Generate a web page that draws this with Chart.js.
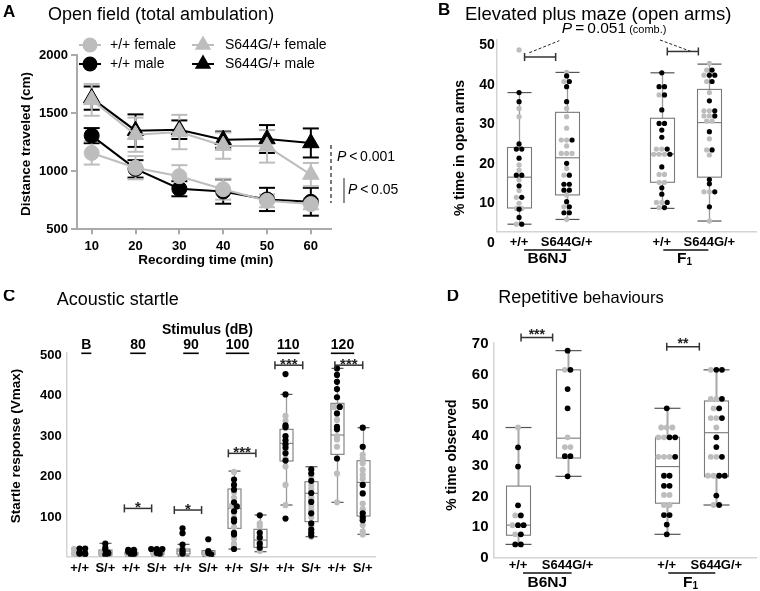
<!DOCTYPE html>
<html><head><meta charset="utf-8">
<script src="https://cdn.jsdelivr.net/npm/chart.js@4.4.1/dist/chart.umd.min.js"></script>
<style>
html,body{margin:0;padding:0;background:#fff;}
body{width:760px;height:591px;position:relative;overflow:hidden}
canvas{position:absolute;display:block}
</style></head><body>
<canvas id="cA" width="410" height="290" style="left:0;top:0"></canvas>
<canvas id="cB" width="380" height="290" style="left:380px;top:0"></canvas>
<canvas id="cC" width="380" height="301" style="left:0;top:290px"></canvas>
<canvas id="cD" width="380" height="301" style="left:380px;top:290px"></canvas>
<script>
// ---------------- DATA ----------------
// Panel A: open field (mean, SEM)
const timeMin = [10, 20, 30, 40, 50, 60];
const wtFemale = [1157, 1030, 957, 845, 745, 717];
const wtFemaleSem = [100, 100, 95, 90, 55, 45];
const wtMale = [1306, 1020, 849, 825, 757, 737];
const wtMaleSem = [65, 75, 65, 105, 100, 120];
const mutFemale = [1614, 1314, 1337, 1220, 1214, 971];
const mutFemaleSem = [137, 147, 148, 113, 140, 100];
const mutMale = [1629, 1349, 1357, 1271, 1277, 1243];
const mutMaleSem = [100, 140, 80, 70, 120, 125];
const distanceTicks = [500, 1000, 1500, 2000];

// Panel B: elevated plus maze (% time in open arms)
const epmPositions = [0, 1, 3, 4];
const epmLabels = ['+/+', 'S644G/+', '+/+', 'S644G/+'];
const epmTicks = [10, 20, 30, 40, 50];
// box stats: [min, q1, median, q3, max]
const epmB6WtBox = [4.7, 8.8, 16.6, 24.1, 38.0];
const epmB6MutBox = [5.9, 12.1, 21.5, 33.0, 43.1];
const epmF1WtBox = [8.7, 15.3, 22.5, 31.5, 43.0];
const epmF1MutBox = [5.5, 16.6, 30.4, 38.8, 45.2];
const epmB6WtFemale = [48.8, 34.0, 31.9, 19.7, 18.4, 15.9, 13.2, 11.5, 10.0, 8.7, 8.7, 4.7];
const epmB6WtMale = [38.0, 35.7, 25.0, 23.7, 23.7, 21.4, 17.1, 17.1, 14.4, 11.5, 8.5, 6.4, 4.7];
const epmB6MutFemale = [43.1, 40.8, 34.0, 31.9, 29.0, 26.0, 26.0, 24.5, 22.6, 22.6, 22.6, 18.8, 17.1, 12.1, 9.1, 5.9];
const epmB6MutMale = [42.2, 40.8, 39.5, 35.7, 26.0, 20.1, 17.1, 14.8, 14.8, 13.3, 13.3, 10.4, 9.1, 7.6, 7.6];
const epmF1WtFemale = [37.4, 23.7, 23.7, 22.4, 22.4, 22.4, 17.3, 17.3, 15.3, 15.3, 10.2, 10.2, 8.9];
const epmF1WtMale = [43.0, 39.5, 39.5, 37.4, 33.6, 30.2, 30.2, 28.5, 26.7, 23.7, 22.4, 19.2, 13.9, 12.3, 10.2, 8.9];
const epmF1MutFemale = [45.4, 43.7, 42.4, 40.8, 38.0, 33.4, 33.4, 32.1, 32.1, 30.8, 30.8, 26.3, 23.5, 22.2, 12.9, 12.9, 5.5];
const epmF1MutMale = [43.7, 42.4, 42.4, 40.8, 35.9, 33.4, 32.1, 28.1, 23.5, 16.0, 14.9, 12.9, 9.1];

// Panel C: acoustic startle (Vmax)
const stimulusLevels = ['B', '80', '90', '100', '110', '120'];
const startleGenotypes = ['+/+', 'S/+'];
const startleTicks = [100, 200, 300, 400, 500];
const startleBoxes = [
  [5, 9.6, 12.8, 17, 25], [5, 7.1, 12.8, 19.5, 36],
  [5, 8, 11, 14, 20], [5, 9, 12, 15, 22],
  [5, 9.6, 17, 21.9, 33.4], [4, 7.9, 12, 17.7, 18],
  [21.9, 72.9, 122, 169.8, 214], [15.3, 26, 44, 70.5, 105.7],
  [130.4, 238.8, 282.4, 316.9, 403], [52.3, 89.3, 159.2, 187.8, 224.7],
  [137, 255.2, 302.9, 381, 467.2], [58.1, 103.3, 186.2, 239.6, 320.9]
];
const startleFemale = [
  [22, 12, 10, 8, 6, 5], [18, 14, 10, 6, 5],
  [12, 9, 6], [14, 10, 7, 5],
  [25, 18, 12, 8, 5], [14, 10, 8, 6],
  [212, 170, 162, 148, 128, 110, 98, 76, 48, 35, 28], [85, 78, 55, 45, 40, 30, 20, 17],
  [350, 338, 320, 283, 265, 245, 225, 180, 130], [200, 180, 170, 150, 145, 128, 118, 100, 78, 52],
  [372, 340, 300, 292, 274, 208, 137], [254, 245, 233, 217, 205, 195, 134, 120, 81, 65, 58]
];
const startleMale = [
  [23, 23, 14, 12, 11, 10, 9], [35, 25, 20, 13, 11, 8],
  [20, 20, 15, 14, 11, 10, 8], [22, 22, 22, 20, 18, 15, 12, 10],
  [73, 61, 33, 20, 15, 10], [46, 17, 12, 9],
  [193, 180, 168, 137, 127, 115, 95, 90, 62, 58, 22], [105, 62, 50, 35, 25],
  [453, 403, 327, 322, 300, 290, 280, 272, 258, 240, 97], [218, 208, 190, 160, 138, 110, 85, 70, 62, 55],
  [467, 451, 434, 416, 396, 372, 356, 323, 317, 245], [321, 274, 180, 159, 110, 100, 93]
];

// Panel D: repetitive behaviours (% time observed)
const repPositions = [0, 1, 3, 4];
const repLabels = ['+/+', 'S644G/+', '+/+', 'S644G/+'];
const repTicks = [0, 10, 20, 30, 40, 50, 60, 70];
const repB6WtBox = [4.3, 7.3, 10.6, 23.4, 42.6];
const repB6MutBox = [26.6, 32.6, 39.1, 61.5, 67.8];
const repF1WtBox = [7.6, 17.8, 29.8, 39.4, 48.9];
const repF1MutBox = [17.2, 26.5, 40.9, 51.3, 61.5];
const repB6WtFemale = [42.6, 13.8, 10.6, 7.6];
const repB6WtMale = [36.1, 29.8, 17.1, 13.8, 10.6, 10.6, 7.6, 4.3, 4.3];
const repB6MutFemale = [61.5, 39.4, 36.2, 36.2];
const repB6MutMale = [67.8, 61.5, 55.2, 48.9, 33.2, 33.2, 26.6];
const repF1WtFemale = [42.6, 42.6, 42.6, 39.4, 39.4, 33.0, 33.0, 33.0, 20.5, 20.5, 17.2, 17.2];
const repF1WtMale = [48.9, 39.4, 39.4, 33.0, 26.8, 26.8, 23.5, 23.5, 13.9, 13.9, 10.8, 7.6];
const repF1MutFemale = [61.5, 52.0, 52.0, 48.9, 45.7, 45.7, 42.6, 33.0, 33.0, 26.8, 26.8, 17.2];
const repF1MutMale = [61.5, 61.5, 52.0, 48.9, 45.7, 39.4, 36.2, 33.0, 26.8, 26.8, 20.3, 17.2];

// ---------------- HELPERS ----------------
const FONT = "'Liberation Sans', Arial, Helvetica, sans-serif";
const GREY = '#bdbdbd';
const BLACK = '#000000';
Chart.defaults.font.family = FONT;

function fnt(size, bold, italic) { return (italic ? 'italic ' : '') + (bold ? 'bold ' : '') + size + 'px ' + FONT; }
function drawItems(ctx, items) {
  items.forEach(it => {
    ctx.save();
    ctx.fillStyle = it.color || '#000';
    ctx.textBaseline = it.baseline || 'middle';
    const segs = it.segs || [{ t: it.t }];
    let total = 0;
    const ws = segs.map(s => {
      ctx.font = fnt(s.size || it.size, s.bold ?? it.bold, s.italic ?? it.italic);
      const w = ctx.measureText(s.t).width; total += w; return w;
    });
    ctx.translate(it.x, it.y);
    if (it.rot) ctx.rotate(it.rot * Math.PI / 180);
    let x0 = it.align === 'center' ? -total / 2 : (it.align === 'right' ? -total : 0);
    segs.forEach((s, i) => {
      ctx.font = fnt(s.size || it.size, s.bold ?? it.bold, s.italic ?? it.italic);
      ctx.textAlign = 'left';
      ctx.fillText(s.t, x0, s.dy || 0);
      if (it.underline) ctx.fillRect(x0, 7.5, ws[i], 1.6);
      x0 += ws[i];
    });
    ctx.restore();
  });
}
function line(ctx, x1, y1, x2, y2, color, width, dash) {
  ctx.save(); ctx.strokeStyle = color; ctx.lineWidth = width; ctx.setLineDash(dash || []);
  ctx.beginPath(); ctx.moveTo(x1, y1); ctx.lineTo(x2, y2); ctx.stroke(); ctx.restore();
}
function bracket(ctx, x1, x2, y, stars, size, gap) {
  line(ctx, x1, y, x2, y, '#333', 1.5);
  line(ctx, x1, y - 4, x1, y + 4, '#333', 1.5);
  line(ctx, x2, y - 4, x2, y + 4, '#333', 1.5);
  if (stars) drawItems(ctx, [{ t: stars, x: (x1 + x2) / 2, y: y + gap, size: size, bold: true, align: 'center', baseline: 'alphabetic', color: '#222' }]);
}
function pts(pos, arr) { return arr.map(v => ({ x: pos, y: v })); }

function swarmPlugin(spacing, tol) {
  return {
    id: 'swarm',
    afterDatasetsUpdate(chart) {
      const groups = new Map();
      chart.data.datasets.forEach((ds, di) => {
        const meta = chart.getDatasetMeta(di);
        meta.data.forEach((el, i) => {
          const key = ds.data[i].x;
          if (!groups.has(key)) groups.set(key, []);
          groups.get(key).push({ el, y: el.y, x: el.x, di });
        });
      });
      groups.forEach(items => {
        items.sort((a, b) => a.y - b.y);
        let i = 0;
        while (i < items.length) {
          let j = i + 1;
          while (j < items.length && items[j].y - items[i].y <= tol) j++;
          const row = items.slice(i, j).sort((a, b) => b.di - a.di);
          const n = row.length;
          row.forEach((it, k) => { it.el.x = it.x + (k - (n - 1) / 2) * spacing; });
          i = j;
        }
      });
    }
  };
}
function boxPlugin(boxes, o) {
  return {
    id: 'boxes',
    beforeDatasetsDraw(chart) {
      const ctx = chart.ctx, xs = chart.scales.x, ys = chart.scales.y;
      boxes.forEach(b => {
        const x = Math.round(xs.getPixelForValue(b.pos)) + 0.5;
        const [mn, q1, md, q3, mx] = b.stats.map(v => ys.getPixelForValue(v));
        line(ctx, x, mx, x, q3, o.whisker, o.whiskerWidth);
        line(ctx, x, q1, x, mn, o.whisker, o.whiskerWidth);
        line(ctx, x - o.capHalf, mx, x + o.capHalf, mx, o.cap, 1.2);
        line(ctx, x - o.capHalf, mn, x + o.capHalf, mn, o.cap, 1.2);
        ctx.save(); ctx.strokeStyle = o.box; ctx.lineWidth = 1.1;
        ctx.strokeRect(x - o.boxHalf, q3, 2 * o.boxHalf, q1 - q3); ctx.restore();
        line(ctx, x - o.boxHalf, md, x + o.boxHalf, md, o.box, 1.1);
      });
    }
  };
}
function axisX(min, max, positions, labels, padding, height, size) {
  return {
    type: 'linear', min, max,
    afterBuildTicks: s => { s.ticks = positions.map(v => ({ value: v })); },
    afterFit: s => { s.height = height; },
    ticks: { callback: (v, i) => labels[i], font: { size, weight: 'bold' }, color: '#000', padding, maxRotation: 0, autoSkip: false },
    grid: { display: false, drawTicks: false },
    border: { color: '#d4d4d4', width: 1.5 }
  };
}
function axisY(min, max, ticks, padding, width, size) {
  return {
    type: 'linear', min, max,
    afterBuildTicks: s => { s.ticks = ticks.map(v => ({ value: v })); },
    afterFit: s => { s.width = width; },
    ticks: { callback: v => String(v), font: { size, weight: 'bold' }, color: '#000', padding },
    grid: { display: false, drawTicks: false },
    border: { color: '#d4d4d4', width: 1.5 }
  };
}
const baseOpts = { responsive: false, animation: false, events: [], plugins: { legend: { display: false }, tooltip: { enabled: false } } };

// ---------------- PANEL A ----------------
function lineDs(label, vals, sem, color, style, r) {
  return {
    label, data: vals.map((v, i) => ({ x: timeMin[i], y: v })), sem,
    borderColor: color, backgroundColor: color, borderWidth: 2,
    pointStyle: style, pointRadius: r, pointBorderWidth: 1, pointBorderColor: color, pointBackgroundColor: color, tension: 0
  };
}
const errorBars = {
  id: 'errbars',
  beforeDatasetsDraw(chart) {
    const ctx = chart.ctx, xs = chart.scales.x, ys = chart.scales.y;
    chart.data.datasets.slice().reverse().forEach(ds => {
      ds.data.forEach((p, i) => {
        const x = xs.getPixelForValue(p.x), e = ds.sem[i];
        const y1 = ys.getPixelForValue(p.y + e), y2 = ys.getPixelForValue(p.y - e);
        line(ctx, x, y1, x, y2, ds.borderColor, 2);
        line(ctx, x - 8, y1, x + 8, y1, ds.borderColor, 2);
        line(ctx, x - 8, y2, x + 8, y2, ds.borderColor, 2);
      });
    });
  }
};
function marker(ctx, style, x, y, r, color) {
  ctx.save(); ctx.fillStyle = color; ctx.beginPath();
  if (style === 'circle') ctx.arc(x, y, r, 0, Math.PI * 2);
  else { for (let k = 0; k < 3; k++) { const a = k * 2 * Math.PI / 3; ctx.lineTo(x + Math.sin(a) * r, y - Math.cos(a) * r); } ctx.closePath(); }
  ctx.fill(); ctx.restore();
}
const legendSpots = [[90, 45], [203, 45], [90, 64], [203, 64]];
const decorA = {
  id: 'decorA',
  afterDraw(chart) {
    const ctx = chart.ctx;
    chart.data.datasets.forEach((ds, i) => {
      const [x, y] = legendSpots[i];
      line(ctx, x - 11, y, x + 11, y, ds.borderColor, 2);
      marker(ctx, ds.pointStyle, x, y, ds.pointRadius, ds.borderColor);
      drawItems(ctx, [{ t: ds.label, x: x + (i % 2 ? 22 : 20), y, size: 14 }]);
    });
    line(ctx, 331, 145, 331, 203, '#222', 1.2, [4, 3]);
    line(ctx, 344, 178, 344, 203, '#555', 1.3);
    drawItems(ctx, [
      { t: 'A', x: 3, y: 12, size: 17, bold: true },
      { t: 'Open field (total ambulation)', x: 48, y: 15, size: 18 },
      { t: 'Distance traveled (cm)', x: 26.5, y: 144, size: 13.5, bold: true, rot: -90, align: 'center' },
      { t: 'Recording time (min)', x: 205.8, y: 260, size: 13.5, bold: true, align: 'center' },
      { segs: [{ t: 'P', italic: true }, { t: '\u2009<\u20090.001' }], x: 337, y: 157, size: 14 },
      { segs: [{ t: 'P', italic: true }, { t: '\u2009<\u20090.05' }], x: 348, y: 190, size: 14 }
    ]);
  }
};
new Chart(document.getElementById('cA'), {
  type: 'line',
  data: { datasets: [
    lineDs('+/+ female', wtFemale, wtFemaleSem, GREY, 'circle', 7.5),
    lineDs('S644G/+ female', mutFemale, mutFemaleSem, GREY, 'triangle', 9.5),
    lineDs('+/+ male', wtMale, wtMaleSem, BLACK, 'circle', 7.5),
    lineDs('S644G/+ male', mutMale, mutMaleSem, BLACK, 'triangle', 9.5)
  ] },
  options: Object.assign({}, baseOpts, {
    layout: { padding: { left: 0, right: 79, top: 55, bottom: 0 } },
    scales: {
      x: {
        type: 'linear', min: 6.65, max: 64.6,
        afterBuildTicks: s => { s.ticks = timeMin.map(v => ({ value: v })); },
        afterFit: s => { s.height = 60.7; },
        ticks: { callback: v => String(v), font: { size: 13, weight: 'bold' }, color: '#000', padding: 4.5, maxRotation: 0 },
        grid: { drawOnChartArea: false, drawTicks: true, tickLength: 5, color: '#aaaaaa', lineWidth: 2 },
        border: { color: '#aaaaaa', width: 2 }
      },
      y: {
        type: 'linear', min: 500, max: 2000,
        afterBuildTicks: s => { s.ticks = distanceTicks.map(v => ({ value: v })); },
        afterFit: s => { s.width = 77; },
        ticks: { callback: v => String(v), font: { size: 13, weight: 'bold' }, color: '#000', padding: 3 },
        grid: { drawOnChartArea: false, drawTicks: true, tickLength: 6, color: '#aaaaaa', lineWidth: 2 },
        border: { color: '#aaaaaa', width: 2 }
      }
    }
  }),
  plugins: [errorBars, decorA]
});

// ---------------- PANEL B ----------------
const epmBoxes = [
  { pos: 0, stats: epmB6WtBox }, { pos: 1, stats: epmB6MutBox },
  { pos: 3, stats: epmF1WtBox }, { pos: 4, stats: epmF1MutBox }
];
function groupLabels(ctx, xs, yLine, yText) {
  const a0 = xs.getPixelForValue(0), a1 = xs.getPixelForValue(1), b0 = xs.getPixelForValue(3), b1 = xs.getPixelForValue(4);
  line(ctx, a0 + 5, yLine, a1 + 4, yLine, '#111', 1.3);
  line(ctx, b0 + 1.5, yLine, b1 - 1, yLine, '#111', 1.3);
  drawItems(ctx, [
    { t: 'B6NJ', x: (a0 + a1 + 9) / 2, y: yText, size: 15.5, bold: true, align: 'center' },
    { segs: [{ t: 'F' }, { t: '1', size: 10, dy: 4 }], x: (b0 + b1) / 2 - 1, y: yText, size: 15.5, bold: true, align: 'center' }
  ]);
}
const decorB = {
  id: 'decorB',
  afterDraw(chart) {
    const ctx = chart.ctx, xs = chart.scales.x, ys = chart.scales.y;
    drawItems(ctx, [
      { t: 'B', x: 58, y: 10, size: 17, bold: true },
      { t: 'Elevated plus maze (open arms)', x: 85, y: 15, size: 18.5 },
      { t: '% time in open arms', x: 80, y: 148, size: 14, bold: true, rot: -90, align: 'center' },
      { t: '0', x: chart.chartArea.left - 2, y: ys.getPixelForValue(0), size: 14, bold: true, align: 'right' },
      { segs: [{ t: 'P', italic: true }, { t: '\u2009=\u20090.051' }, { t: ' (comb.)', size: 11 }], x: 181.7, y: 33.2, size: 15.5, baseline: 'alphabetic' }
    ]);
    line(ctx, 149.3, 52.7, 179.3, 40.7, '#222', 1, [3, 2]);
    line(ctx, 280, 40, 311.7, 51.7, '#222', 1, [3, 2]);
    bracket(ctx, xs.getPixelForValue(0) + 5.5, xs.getPixelForValue(1) - 11, ys.getPixelForValue(47), '', 14, 0);
    bracket(ctx, xs.getPixelForValue(3) + 5.5, xs.getPixelForValue(4) - 11, ys.getPixelForValue(48.4), '', 14, 0);
    groupLabels(ctx, xs, 250, 258.3);
  }
};
function scatterDs(label, data, color, r) {
  return { label, data, backgroundColor: color, borderColor: color, borderWidth: 0, pointRadius: r, showLine: false };
}
new Chart(document.getElementById('cB'), {
  type: 'scatter',
  data: { datasets: [
    scatterDs('male', [].concat(pts(0, epmB6WtMale), pts(1, epmB6MutMale), pts(3, epmF1WtMale), pts(4, epmF1MutMale)), BLACK, 2.6),
    scatterDs('female', [].concat(pts(0, epmB6WtFemale), pts(1, epmB6MutFemale), pts(3, epmF1WtFemale), pts(4, epmF1MutFemale)), GREY, 2.6)
  ] },
  options: Object.assign({}, baseOpts, {
    layout: { padding: { left: 0, right: 0, top: 40, bottom: 0 } },
    scales: {
      x: axisX(-0.47, 4.98, epmPositions, epmLabels, 2.5, 290 - 231.7, 13),
      y: axisY(2.8, 51.3, epmTicks, 2, 116.7, 14)
    }
  }),
  plugins: [swarmPlugin(5.4, 0.5), boxPlugin(epmBoxes, { whisker: '#9a9a9a', whiskerWidth: 1.3, cap: '#555', box: '#7a7a7a', boxHalf: 12, capHalf: 12 }), decorB]
});

// ---------------- PANEL C ----------------
const startlePositions = startleBoxes.map((b, i) => i);
const startleLabels = startlePositions.map(i => startleGenotypes[i % 2]);
const headerX = [86.3, 138, 191, 237.5, 288.3, 342.5];
const startleBrackets = [[1.74, 2.80, 122, '*'], [3.68, 4.74, 118, '*'], [5.78, 6.85, 257.7, '***'], [7.59, 8.67, 475, '***'], [9.92, 11.0, 475, '***']];
const decorC = {
  id: 'decorC',
  afterDraw(chart) {
    const ctx = chart.ctx, xs = chart.scales.x, ys = chart.scales.y;
    drawItems(ctx, [
      { t: 'C', x: 3, y: 6.5, size: 17, bold: true },
      { t: 'Acoustic startle', x: 56.7, y: 10, size: 18 },
      { t: 'Startle response (Vmax)', x: 16.7, y: 156, size: 13.5, bold: true, rot: -90, align: 'center' },
      { t: 'Stimulus (dB)', x: 207.5, y: 40, size: 14, bold: true, align: 'center' }
    ]);
    drawItems(ctx, stimulusLevels.map((s, i) => ({ t: s, x: headerX[i], y: 55, size: 14, bold: true, align: 'center', underline: true })));
    startleBrackets.forEach(b => bracket(ctx, xs.getPixelForValue(b[0]), xs.getPixelForValue(b[1]), ys.getPixelForValue(b[2]), b[3], 15, 3.5));
  }
};
new Chart(document.getElementById('cC'), {
  type: 'scatter',
  data: { datasets: [
    scatterDs('male', [].concat(...startleMale.map((a, i) => pts(i, a))), BLACK, 3.1),
    scatterDs('female', [].concat(...startleFemale.map((a, i) => pts(i, a))), GREY, 3.1)
  ] },
  options: Object.assign({}, baseOpts, {
    layout: { padding: { left: 0, right: 4.4, top: 63, bottom: 0 } },
    scales: {
      x: axisX(-0.5, 11.5, startlePositions, startleLabels, 3.8, 301 - 266.7, 13),
      y: axisY(3, 505, startleTicks, 5, 66.7, 13)
    }
  }),
  plugins: [swarmPlugin(5.6, 0.5), boxPlugin(startleBoxes.map((s, i) => ({ pos: i, stats: s })), { whisker: '#9a9a9a', whiskerWidth: 1.3, cap: '#555', box: '#7a7a7a', boxHalf: 6.5, capHalf: 6 }), decorC]
});

// ---------------- PANEL D ----------------
const repBoxes = [
  { pos: 0, stats: repB6WtBox }, { pos: 1, stats: repB6MutBox },
  { pos: 3, stats: repF1WtBox }, { pos: 4, stats: repF1MutBox }
];
const decorD = {
  id: 'decorD',
  afterDraw(chart) {
    const ctx = chart.ctx, xs = chart.scales.x, ys = chart.scales.y;
    drawItems(ctx, [
      { t: 'D', x: 66.7, y: 6, size: 17, bold: true },
      { segs: [{ t: 'Repetitive', size: 18 }, { t: ' behaviours', size: 16.5 }], x: 118.3, y: 8.3 },
      { t: '% time observed', x: 71.7, y: 165, size: 14, bold: true, rot: -90, align: 'center' }
    ]);
    bracket(ctx, xs.getPixelForValue(0) + 3, xs.getPixelForValue(1) - 15, ys.getPixelForValue(72.1), '***', 14, 1);
    bracket(ctx, xs.getPixelForValue(3), xs.getPixelForValue(4) - 17, ys.getPixelForValue(69.1), '**', 14, 1);
    groupLabels(ctx, xs, 283, 292.7);
  }
};
new Chart(document.getElementById('cD'), {
  type: 'scatter',
  data: { datasets: [
    scatterDs('male', [].concat(pts(0, repB6WtMale), pts(1, repB6MutMale), pts(3, repF1WtMale), pts(4, repF1MutMale)), BLACK, 2.9),
    scatterDs('female', [].concat(pts(0, repB6WtFemale), pts(1, repB6MutFemale), pts(3, repF1WtFemale), pts(4, repF1MutFemale)), GREY, 2.9)
  ] },
  options: Object.assign({}, baseOpts, {
    layout: { padding: { left: 0, right: 4, top: 53, bottom: 0 } },
    scales: {
      x: axisX(-0.485, 4.8, repPositions, repLabels, 0, 301 - 267.5, 13),
      y: axisY(0, 70.3, repTicks, 5.5, 114, 15)
    }
  }),
  plugins: [swarmPlugin(5.6, 0.5), boxPlugin(repBoxes, { whisker: '#a8a8a8', whiskerWidth: 2, cap: '#555', box: '#7a7a7a', boxHalf: 12, capHalf: 13 }), decorD]
});
</script>
</body></html>
